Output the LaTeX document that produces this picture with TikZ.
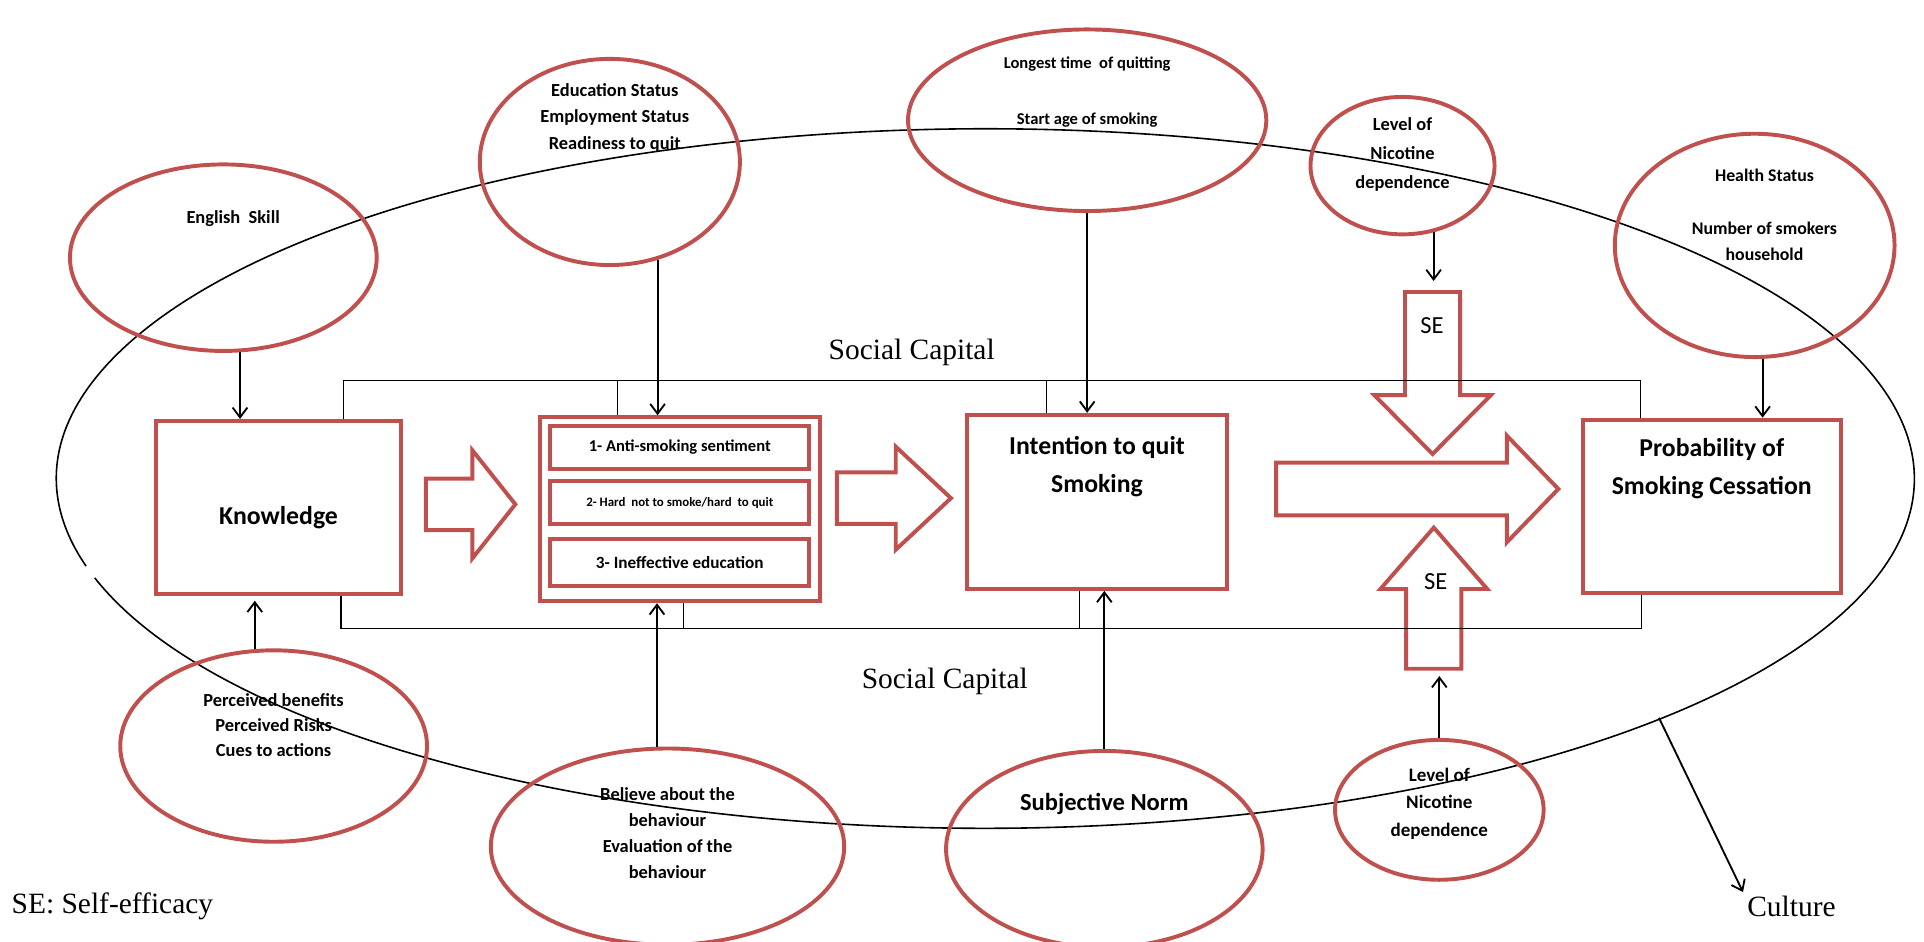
\documentclass[tikz,border=0pt]{standalone}
\usepackage{fontspec}
\setmainfont{Liberation Serif}
\newfontfamily\calibri{Carlito}
\usetikzlibrary{arrows.meta,calc,positioning,shapes.geometric}
\definecolor{bred}{RGB}{192,80,77}
\tikzset{
  bubble/.style={ellipse, draw=bred, line width=3.2pt, inner sep=0pt},
  redbox/.style={draw=bred, line width=3.2pt, inner sep=0pt},
  blk/.style={draw=bred, line width=3.2pt, line join=miter},
  arr/.style={line width=1.5pt, -{Straight Barb[length=8pt,width=12pt]}},
  frame/.style={line width=1.1pt},
  bubtxt/.style={font=\calibri\bfseries\fontsize{15}{21.5}\selectfont, align=center},
  boxtxt/.style={font=\calibri\bfseries\fontsize{21}{31}\selectfont, align=center},
  serif/.style={font=\fontsize{24}{28}\selectfont},
}
\begin{document}
\begin{tikzpicture}[x=1pt,y=-1pt]
\useasboundingbox (0,0) rectangle (1568,767);

% culture ring (with the small gap on the left)
\draw[line width=1.3pt] (803,390) ++(165.5:757 and 285) arc[start angle=165.5, end angle=523.5, x radius=757, y radius=285];

% factors
\node[bubble, minimum width=250pt, minimum height=152pt] (eng) at (182,210) {};
\node[bubble, minimum width=212pt, minimum height=168pt] (edu) at (497,132) {};
\node[bubble, minimum width=292pt, minimum height=148pt] (lng) at (886,98) {};
\node[bubble, minimum width=150pt, minimum height=112pt] (nic1) at (1143,135) {};
\node[bubble, minimum width=228pt, minimum height=182pt] (hlt) at (1430,200) {};
\node[bubble, minimum width=250pt, minimum height=156pt] (per) at (223,608) {};
\node[bubble, minimum width=288pt, minimum height=160pt] (bel) at (544,690) {};
\node[bubble, minimum width=258pt, minimum height=160pt] (sub) at (900,692) {};
\node[bubble, minimum width=170pt, minimum height=114pt] (nic2) at (1173,660) {};

\node[bubtxt] at ([xshift=8pt,yshift=32pt]eng.center) {English\ \ Skill};
\node[bubtxt] at ([xshift=4pt,yshift=36pt]edu.center) {Education Status\\Employment Status\\Readiness to quit};
\node[bubtxt, font=\calibri\bfseries\fontsize{13.5}{23}\selectfont] at ([yshift=23pt]lng.center) {Longest time\ \ of quitting\\[22pt]Start age of smoking};
\node[bubtxt, font=\calibri\bfseries\fontsize{15}{23.5}\selectfont] at ([yshift=9pt]nic1.center) {Level of\\Nicotine\\dependence};
\node[bubtxt, font=\calibri\bfseries\fontsize{14.5}{21.5}\selectfont] at ([xshift=8pt,yshift=25pt]hlt.center) {Health Status\\[22pt]Number of smokers\\household};
\node[bubtxt, font=\calibri\bfseries\fontsize{15}{20.5}\selectfont] at ([yshift=17pt]per.center) {Perceived benefits\\Perceived Risks\\Cues to actions};
\node[bubtxt, font=\calibri\bfseries\fontsize{15}{21.3}\selectfont] at ([yshift=11pt]bel.center) {Believe about the\\behaviour\\Evaluation of the\\behaviour};
\node[bubtxt, font=\calibri\bfseries\fontsize{20}{24}\selectfont] at ([yshift=37pt]sub.center) {Subjective Norm};
\node[bubtxt, font=\calibri\bfseries\fontsize{15.5}{22.5}\selectfont] at ([yshift=5pt]nic2.center) {Level of\\Nicotine\\dependence};

% main boxes
\node[redbox, minimum width=200pt, minimum height=141pt] (know) at (227,413.5) {};
\node[boxtxt] at ([yshift=-8pt]know.center) {Knowledge};
\node[redbox, minimum width=228pt, minimum height=150pt] (grp) at (554,415) {};
\node[redbox, minimum width=211pt, minimum height=35pt, font=\calibri\bfseries\fontsize{13.5}{16}\selectfont] (g1) [below=7pt of grp.north] {1- Anti-smoking sentiment};
\node[redbox, minimum width=211pt, minimum height=35pt, font=\calibri\bfseries\fontsize{10.5}{13}\selectfont] (g2) [below=7pt of g1.south] {2- Hard\ \ not to smoke/hard\ \ to quit};
\node[redbox, minimum width=211pt, minimum height=38pt, font=\calibri\bfseries\fontsize{14}{17}\selectfont] (g3) [below=9pt of g2.south] {3- Ineffective education};
\node[redbox, minimum width=212pt, minimum height=142pt] (int) at (894,409) {};
\node[boxtxt, below=16pt of int.north] {Intention to quit\\Smoking};
\node[redbox, minimum width=210pt, minimum height=141pt] (prob) at (1395,412.5) {};
\node[boxtxt, below=13pt of prob.north] {Probability of\\Smoking Cessation};

% block arrows
\coordinate (b1) at (347,411);
\coordinate (b2) at (682,406);
\coordinate (bigc) at (1040,398.5);
\coordinate (sedn) at (1167.5,238);
\coordinate (seup) at (1168.5,545);
\draw[blk] (b1) ++(0,-21) -- ++(38,0) -- ++(0,-23) -- ++(35,44) -- ++(-35,44) -- ++(0,-23) -- ++(-38,0) -- cycle;
\draw[blk] (b2) ++(0,-21) -- ++(48,0) -- ++(0,-21) -- ++(45,42) -- ++(-45,42) -- ++(0,-21) -- ++(-48,0) -- cycle;
\draw[blk] (bigc) ++(0,-21.5) -- ++(188,0) -- ++(0,-22) -- ++(42,43.5) -- ++(-42,43.5) -- ++(0,-22) -- ++(-188,0) -- cycle;
\draw[blk] (sedn) ++(-22.5,0) -- ++(45,0) -- ++(0,84) -- ++(25,0) -- ++(-47.5,48) -- ++(-47.5,-48) -- ++(25,0) -- cycle;
\draw[blk] (seup) ++(-22.5,0) -- ++(0,-65) -- ++(-21,0) -- ++(43.5,-50) -- ++(43.5,50) -- ++(-21,0) -- ++(0,65) -- cycle;
\node[font=\calibri\fontsize{20}{24}\selectfont] (se1) at (1167,265) {SE};
\node[font=\calibri\fontsize{20}{24}\selectfont] (se2) at (1170,474) {SE};

% social capital frame
\coordinate (sct) at (0,310);
\coordinate (scb) at (0,512);
\draw[frame] ([xshift=53pt]know.north) |- ([xshift=-58pt]prob.north |- sct) -- ([xshift=-58pt]prob.north);
\draw[frame] ([xshift=-51pt]grp.north) -- ([xshift=-51pt]grp.north |- sct);
\draw[frame] ([xshift=-41pt]int.north) -- ([xshift=-41pt]int.north |- sct);
\draw[frame] ([xshift=51pt]know.south) |- ([xshift=-57pt]prob.south |- scb) -- ([xshift=-57pt]prob.south);
\draw[frame] ([xshift=3pt]grp.south) -- ([xshift=3pt]grp.south |- scb);
\draw[frame] ([xshift=-14pt]int.south) -- ([xshift=-14pt]int.south |- scb);
\node[serif] (sc1) at (743,287) {Social Capital};
\node[serif] (sc2) at (770,555) {Social Capital};

% influences
\draw[arr] (eng.-80) -- (eng.-80 |- know.north);
\draw[arr] (edu.-64) -- (edu.-64 |- grp.north);
\draw[arr] (lng.south) -- (lng.south |- int.north);
\draw[arr, shorten >=9pt] (nic1.-65) -- (nic1.-65 |- sedn);
\draw[arr] (hlt.-86) -- (hlt.-86 |- prob.north);
\draw[arr, shorten >=4pt] (per.101) -- (per.101 |- know.south);
\draw[arr] (bel.96) -- (bel.96 |- grp.south);
\draw[arr] (sub.north) -- (sub.north |- int.south);
\draw[arr, shorten >=6pt] (nic2.north) -- (nic2.north |- seup);

% culture and legend
\node[serif] (cult) at (1460,739) {Culture};
\coordinate (cs) at (1352,585);
\draw[arr] (cs) -- (cult.north west);
\node[serif, anchor=west] (sedef) at (6,739) {SE: Self-efficacy};
\end{tikzpicture}
\end{document}
